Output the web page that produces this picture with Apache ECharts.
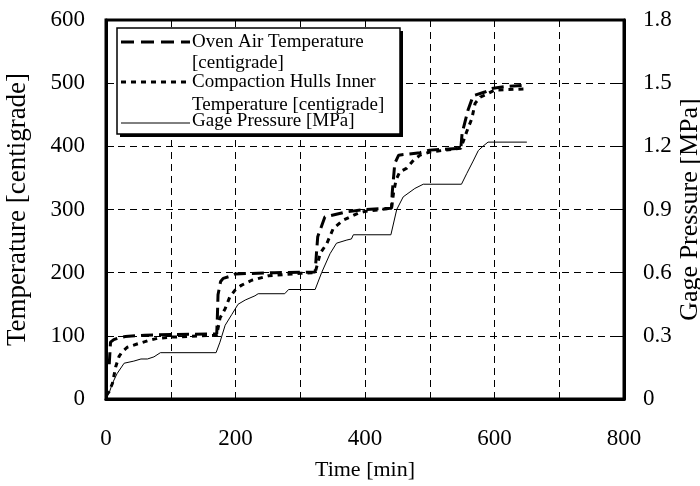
<!DOCTYPE html>
<html>
<head>
<meta charset="utf-8">
<script src="https://cdn.jsdelivr.net/npm/echarts@6/dist/echarts.min.js"></script>
<style>
  html, body { margin: 0; padding: 0; background: #fff; }
  #main { width: 700px; height: 486px; }
</style>
</head>
<body>
<div id="main"></div>
<script>
// oven air temperature [centigrade]
var ovenTime = [5, 7, 12, 20, 30, 60, 100, 171, 172, 173, 177, 181, 194, 200, 260, 323, 325, 327, 338, 370, 400, 441, 442, 446, 452, 485, 500, 548, 550, 559, 567, 585, 598, 620, 650];
var ovenTemp = [55, 90, 94, 97, 99, 101, 102, 103, 130, 165, 186, 191, 195, 198, 200, 201, 230, 257, 288, 296, 300, 302, 326, 373, 386, 390, 394, 397, 421, 457, 480, 486, 492, 495, 497];

// compaction hulls inner temperature [centigrade]
var innerTime = [0, 5, 10, 15, 20, 25, 33, 48, 64, 79, 102, 171, 176, 184, 191, 199, 209, 225, 251, 300, 323, 331, 341, 351, 366, 389, 400, 441, 444, 448, 454, 464, 475, 485, 500, 548, 557, 565, 570, 578, 585, 600, 650];
var innerTemp = [6, 12, 25, 51, 67, 75, 82, 87, 92, 96, 98, 101, 128, 143, 161, 172, 180, 188, 195, 199, 200, 231, 246, 270, 283, 294, 297, 302, 326, 347, 360, 365, 378, 386, 391, 397, 423, 444, 468, 478, 481, 489, 491];

// gage pressure [MPa]
var pressTime = [0, 5, 10, 17, 28, 43, 54, 64, 74, 84, 170, 176, 184, 194, 204, 215, 230, 235, 276, 282, 323, 333, 346, 356, 372, 379, 382, 440, 449, 459, 477, 490, 549, 557, 567, 575, 582, 590, 650];
var pressMPa = [0, 0.03, 0.075, 0.12, 0.17, 0.18, 0.19, 0.19, 0.2, 0.22, 0.22, 0.27, 0.35, 0.4, 0.45, 0.47, 0.49, 0.5, 0.5, 0.52, 0.52, 0.6, 0.69, 0.74, 0.755, 0.76, 0.78, 0.78, 0.9, 0.96, 1.0, 1.02, 1.02, 1.07, 1.13, 1.18, 1.2, 1.22, 1.22];

var seriesNames = ['Oven Air Temperature', 'Compaction Hulls Inner', 'Gage Pressure [MPa]'];

function pairs(xs, ys) {
  return xs.map(function (x, i) { return [x, ys[i]]; });
}

var serif = '"Liberation Serif", "Times New Roman", serif';
var chart = echarts.init(document.getElementById('main'));

var option = {
  animation: false,
  backgroundColor: '#fff',
  textStyle: { fontFamily: serif, color: '#000' },
  grid: {
    left: 106, right: 76, top: 20, bottom: 87,
    outerBoundsMode: 'none',
    show: true, borderColor: '#000', borderWidth: 3
  },
  xAxis: {
    type: 'value', min: 0, max: 800, interval: 100,
    name: 'Time [min]', nameLocation: 'middle', nameGap: 60, nameMoveOverlap: false,
    nameTextStyle: { fontFamily: serif, fontSize: 22, color: '#000' },
    axisLine: { lineStyle: { color: '#000', width: 3 } },
    axisTick: { show: false },
    axisLabel: {
      fontFamily: serif, fontSize: 23, color: '#000', margin: 28,
      formatter: function (v) { return v % 200 === 0 ? String(v) : ''; }
    },
    splitLine: { show: true, lineStyle: { color: '#000', width: 1, type: [7, 5] } }
  },
  yAxis: [{
    type: 'value', min: 0, max: 600, interval: 100, position: 'left',
    name: 'Temperature [centigrade]', nameLocation: 'middle', nameGap: 75, nameRotate: 90,
    nameMoveOverlap: false,
    nameTextStyle: { fontFamily: serif, fontSize: 27, color: '#000' },
    axisLine: { show: true, lineStyle: { color: '#000', width: 3 } },
    axisTick: { show: true, inside: true, length: 8, lineStyle: { color: '#000', width: 1 } },
    axisLabel: { fontFamily: serif, fontSize: 23, color: '#000', margin: 21 },
    splitLine: { show: true, lineStyle: { color: '#000', width: 1, type: [7, 5] } }
  }, {
    type: 'value', min: 0, max: 1.8, interval: 0.3, position: 'right',
    name: 'Gage Pressure [MPa]', nameLocation: 'middle', nameGap: 53, nameRotate: 90,
    nameMoveOverlap: false,
    nameTextStyle: { fontFamily: serif, fontSize: 26, color: '#000' },
    axisLine: { show: true, lineStyle: { color: '#000', width: 3 } },
    axisTick: { show: true, inside: true, length: 8, lineStyle: { color: '#000', width: 1 } },
    axisLabel: {
      fontFamily: serif, fontSize: 23, color: '#000', margin: 19,
      formatter: function (v) { return v === 0 ? '0' : v.toFixed(1); }
    },
    splitLine: { show: false }
  }],
  series: [{
    name: seriesNames[0], type: 'line', yAxisIndex: 0,
    symbol: 'none', z: 3,
    lineStyle: { color: '#000', width: 3, type: [12, 6] },
    data: pairs(ovenTime, ovenTemp)
  }, {
    name: seriesNames[1], type: 'line', yAxisIndex: 0,
    symbol: 'none', z: 3,
    lineStyle: { color: '#000', width: 3, type: [5, 5] },
    data: pairs(innerTime, innerTemp)
  }, {
    name: seriesNames[2], type: 'line', yAxisIndex: 1,
    symbol: 'none', z: 2,
    lineStyle: { color: '#000', width: 1 },
    data: pairs(pressTime, pressMPa)
  }],
  // legend box drawn by hand to keep the two-line labels
  graphic: [{
    type: 'rect', z: 50,
    shape: { x: 120, y: 31, width: 283, height: 106 },
    style: { fill: '#000' }
  }, {
    type: 'rect', z: 51,
    shape: { x: 117, y: 28, width: 283, height: 106 },
    style: { fill: '#fff', stroke: '#000', lineWidth: 1.5 }
  }, {
    type: 'line', z: 52,
    shape: { x1: 121, y1: 42, x2: 190, y2: 42 },
    style: { stroke: '#000', lineWidth: 3, lineDash: [13, 7] }
  }, {
    type: 'line', z: 52,
    shape: { x1: 121, y1: 82, x2: 190, y2: 82 },
    style: { stroke: '#000', lineWidth: 3, lineDash: [5, 5] }
  }, {
    type: 'line', z: 52,
    shape: { x1: 121, y1: 123, x2: 190, y2: 123 },
    style: { stroke: '#000', lineWidth: 1 }
  }, {
    type: 'text', z: 52, left: 192, top: 31,
    style: { text: 'Oven Air Temperature\n[centigrade]', font: '19px ' + serif, fill: '#000', lineHeight: 21.5 }
  }, {
    type: 'text', z: 52, left: 192, top: 70,
    style: { text: 'Compaction Hulls Inner\nTemperature [centigrade]', font: '19px ' + serif, fill: '#000', lineHeight: 23.3 }
  }, {
    type: 'text', z: 52, left: 192, top: 112,
    style: { text: seriesNames[2], font: '19px ' + serif, fill: '#000' }
  }]
};

chart.setOption(option);
</script>
</body>
</html>
